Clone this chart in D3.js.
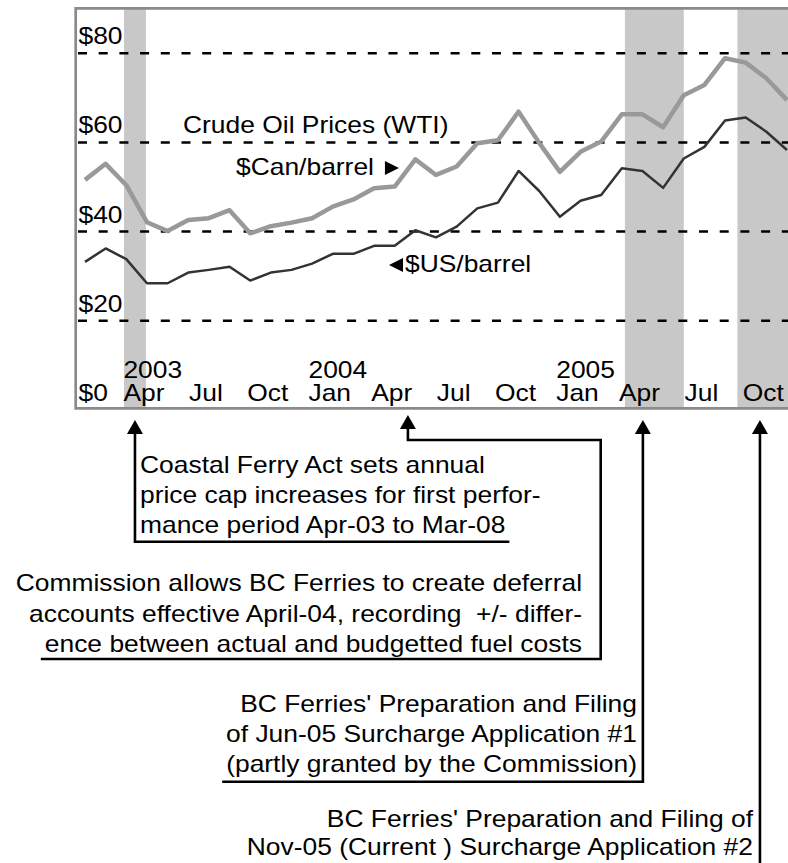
<!DOCTYPE html>
<html>
<head>
<meta charset="utf-8">
<script src="https://cdn.jsdelivr.net/npm/d3@7"></script>
<style>
  body { margin: 0; background: #fff; }
  svg { display: block; }
  text { white-space: pre; }
</style>
</head>
<body>
<div id="chart"></div>
<script>

// monthly series, Jan 2003 .. Nov 2005 (month index 0 = Jan 2003)
const months = ['2003-01','2003-02','2003-03','2003-04','2003-05','2003-06','2003-07','2003-08','2003-09','2003-10','2003-11','2003-12',
                '2004-01','2004-02','2004-03','2004-04','2004-05','2004-06','2004-07','2004-08','2004-09','2004-10','2004-11','2004-12',
                '2005-01','2005-02','2005-03','2005-04','2005-05','2005-06','2005-07','2005-08','2005-09','2005-10','2005-11'];

const canPerBarrel = [51.6, 55.2, 50.4, 42.1, 40.1, 42.6, 43.0, 44.8, 39.6, 41.2, 42.0, 43.0,
                      45.6, 47.2, 49.7, 50.1, 56.2, 52.7, 54.6, 59.8, 60.5, 66.9, 59.9, 53.4,
                      57.9, 60.2, 66.3, 66.3, 63.4, 70.6, 72.9, 78.9, 77.9, 74.4, 69.5];

const usPerBarrel = [33.2, 36.2, 33.8, 28.4, 28.4, 30.8, 31.4, 32.1, 29.0, 30.8, 31.4, 32.8,
                     35.0, 35.0, 36.8, 36.8, 40.3, 38.7, 41.1, 45.2, 46.5, 53.6, 49.1, 43.3,
                     46.9, 48.2, 54.2, 53.6, 49.8, 56.4, 59.0, 64.9, 65.6, 62.4, 58.3];

// axis ticks
const yTicks = [0, 20, 40, 60, 80];
const gridValues = [20, 40, 60, 80];
const quarterIdx = [3, 6, 9, 12, 15, 18, 21, 24, 27, 30, 33];
const quarterNames = ['Apr', 'Jul', 'Oct', 'Jan', 'Apr', 'Jul', 'Oct', 'Jan', 'Apr', 'Jul', 'Oct'];
const yearIdx = [3, 12, 24];
const yearNames = ['2003', '2004', '2005'];

// shaded periods (month index, start / end)
const periodStart = [1.89, 26.15, 31.6];
const periodEnd = [2.95, 29.0, 36];

// regulatory events (month index where the arrow points)
const eventIdx = [2.42, 15.64, 27.02, 32.69];
const eventText = [
  ['Coastal Ferry Act sets annual', 'price cap increases for first perfor-', 'mance period Apr-03 to Mar-08'],
  ['Commission allows BC Ferries to create deferral', 'accounts effective April-04, recording  +/- differ-', 'ence between actual and budgetted fuel costs'],
  ["BC Ferries' Preparation and Filing", 'of Jun-05 Surcharge Application #1', '(partly granted by the Commission)'],
  ["BC Ferries' Preparation and Filing of", 'Nov-05 (Current ) Surcharge Application #2']
];

// ---------- layout ----------
const W = 788, H = 863;
const FS = 24, SX = 1.1;     // font size, horizontal stretch of the text
const frame = {left: 75.7, top: 8.3, bottom: 408.3};

// where each note box sits
const noteLayout = [
  {anchor: 'start', tx: 140, ty: 473.3, lh: 30, tip: 420, bottom: 541.7},
  {anchor: 'end', tx: 582, ty: 591, lh: 30.5, tip: 415, bottom: 659, elbowY: 440, elbowX: 600.7},
  {anchor: 'end', tx: 637, ty: 711.7, lh: 30, tip: 420, bottom: 781.7},
  {anchor: 'end', tx: 753, ty: 826.7, lh: 28.3, tip: 420, bottom: 900}
];

let svg = d3.select('#chart').append('svg')
    .attr('width', W)
    .attr('height', H)
    .style('font-family', '"Liberation Sans", Arial, sans-serif')
    .style('font-size', FS + 'px')
    ;

let x = d3.scaleLinear().domain([0, months.length - 1]).range([85, 787]);
let y = d3.scaleLinear().domain([0, 80]).range([409.8, 53.3]);

// widen text a little, the source used a wide sans
function stretch(sel) {
  sel.each(function () {
    let w = this.getComputedTextLength();
    d3.select(this)
      .attr('textLength', w * SX)
      .attr('lengthAdjust', 'spacingAndGlyphs');
  });
}

// shaded periods
svg.append('g').selectAll('rect')
    .data(periodStart.map((s, i) => [s, periodEnd[i]]))
    .enter()
    .append('rect')
    .attr('x', d => x(d[0]))
    .attr('width', d => Math.min(x(d[1]), W + 10) - x(d[0]))
    .attr('y', frame.top)
    .attr('height', frame.bottom - frame.top)
    .style('fill', '#c8c8c8')
    ;

// dashed gridlines
svg.append('g').selectAll('line')
    .data(gridValues)
    .enter()
    .append('line')
    .attr('x1', 78)
    .attr('x2', W)
    .attr('y1', d => y(d))
    .attr('y2', d => y(d))
    .style('stroke', '#000')
    .style('stroke-width', 2.5)
    .style('stroke-dasharray', '9 11.7')
    ;

// frame (left, top, bottom; the right side runs off the picture)
svg.append('path')
    .attr('d', `M${W + 5},${frame.top}H${frame.left}V${frame.bottom}H${W + 5}`)
    .style('fill', 'none')
    .style('stroke', '#8a8a8a')
    .style('stroke-width', 2.7)
    ;

// y labels inside the plot
svg.append('g').selectAll('text')
    .data(yTicks)
    .enter()
    .append('text')
    .attr('x', 78.5)
    .attr('y', d => y(d) - 9)
    .text(d => '$' + d)
    .call(stretch)
    ;

// month labels
let monthLabels = svg.append('g').selectAll('text')
    .data(quarterIdx)
    .enter()
    .append('text')
    .attr('x', d => x(d) - 3)
    .attr('y', 400.7)
    .attr('text-anchor', 'middle')
    .text((d, i) => quarterNames[i])
    .call(stretch)
    ;

// year labels, left edge lined up with the month below
let leftOf = {};
monthLabels.each(function (d) {
  leftOf[d] = x(d) - 3 - this.getComputedTextLength() / 2;
});
svg.append('g').selectAll('text')
    .data(yearIdx)
    .enter()
    .append('text')
    .attr('x', d => leftOf[d])
    .attr('y', 378)
    .text((d, i) => yearNames[i])
    .call(stretch)
    ;

// price lines
let line = d3.line()
    .x((d, i) => x(i))
    .y(d => y(d))
    ;

svg.append('path')
    .datum(canPerBarrel)
    .attr('d', line)
    .style('fill', 'none')
    .style('stroke', '#999')
    .style('stroke-width', 4.5)
    .style('stroke-linejoin', 'round')
    ;

svg.append('path')
    .datum(usPerBarrel)
    .attr('d', line)
    .style('fill', 'none')
    .style('stroke', '#333')
    .style('stroke-width', 2.5)
    .style('stroke-linejoin', 'round')
    ;

// series labels
svg.append('text')
    .attr('x', 183)
    .attr('y', 133)
    .text('Crude Oil Prices (WTI)')
    .call(stretch)
    ;

let canLabel = svg.append('text')
    .attr('x', 236)
    .attr('y', 175)
    .text('$Can/barrel')
    .call(stretch)
    ;
let canEnd = 236 + canLabel.node().getComputedTextLength();
svg.append('path')
    .attr('d', `M${canEnd + 11},${175 - 14}L${canEnd + 25},${175 - 7}L${canEnd + 11},${175}Z`)
    .style('fill', '#000')
    ;

svg.append('path')
    .attr('d', `M389,${272 - 7}L403,${272 - 14}L403,${272}Z`)
    .style('fill', '#000')
    ;
svg.append('text')
    .attr('x', 405)
    .attr('y', 272)
    .text('$US/barrel')
    .call(stretch)
    ;

// event notes with arrows
eventIdx.forEach((m, i) => {
  let lay = noteLayout[i];
  let ax = x(m);
  let g = svg.append('g');

  let texts = g.selectAll('text')
      .data(eventText[i])
      .enter()
      .append('text')
      .attr('x', lay.tx)
      .attr('y', (d, j) => lay.ty + j * lay.lh)
      .attr('text-anchor', lay.anchor)
      .text(d => d)
      .call(stretch)
      ;

  // extent of the last line for the underline
  let lastW = texts.nodes()[texts.size() - 1].getComputedTextLength();
  let d;
  if (lay.anchor === 'start') {
    d = `M${ax},${lay.tip + 12}V${lay.bottom}H${lay.tx + lastW + 4}`;
  } else if (lay.elbowY) {
    d = `M${ax},${lay.tip + 12}V${lay.elbowY}H${lay.elbowX}V${lay.bottom}H${lay.tx - lastW - 4}`;
  } else {
    d = `M${ax},${lay.tip + 12}V${lay.bottom}H${lay.tx - lastW - 4}`;
  }

  g.append('path')
      .attr('d', d)
      .style('fill', 'none')
      .style('stroke', '#000')
      .style('stroke-width', 2.6)
      ;

  g.append('path')
      .attr('d', `M${ax},${lay.tip}L${ax + 8},${lay.tip + 14}L${ax - 8},${lay.tip + 14}Z`)
      .style('fill', '#000')
      ;
});

</script>
</body>
</html>
